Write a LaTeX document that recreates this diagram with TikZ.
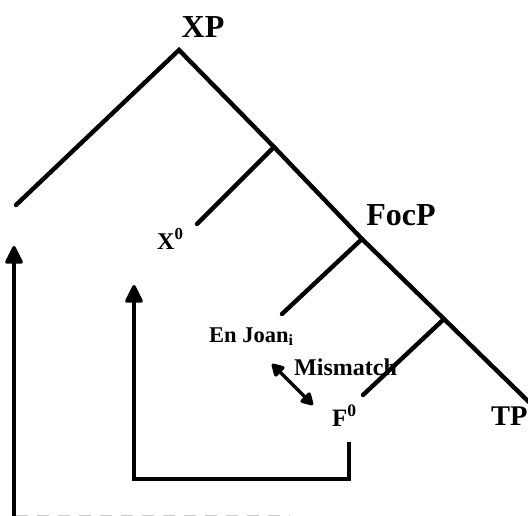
\documentclass[tikz,border=0pt]{standalone}
\usepackage{fontspec}
\setmainfont{Liberation Serif}
\usetikzlibrary{arrows.meta}
\begin{document}
\begin{tikzpicture}[x=1pt,y=-1pt,
  branch/.style={line width=4.4pt,line cap=round},
  conn/.style={line width=3.4pt},
  bigtip/.style={-{Triangle[width=19pt,length=20pt,round]}},
  twotip/.style={{Triangle[width=15pt,length=14pt,round]}-{Triangle[width=15pt,length=14pt,round]}},
  biglab/.style={inner sep=0pt,font=\bfseries\fontsize{32}{32}\selectfont},
  smalllab/.style={inner sep=0pt,font=\bfseries\fontsize{24}{24}\selectfont}]
\useasboundingbox (0,0) rectangle (528,516);
% coordinates of the tree
\coordinate (apex) at (179,50);
\coordinate (lend) at (16,205);
\coordinate (j1) at (274,147);
\coordinate (x0end) at (197,224);
\coordinate (j2) at (362,239);
\coordinate (foend) at (282,314);
\coordinate (j3) at (444,319);
\coordinate (fend) at (363,395);
\coordinate (tpend) at (532,405);
% labels
\node[biglab] (xp) at (203,27) {XP};
\node[biglab] (focp) at (401,215) {FocP};
\node[biglab,font=\bfseries\fontsize{28.5}{28.5}\selectfont,anchor=base west] (tp) at (491,425) {TP};
\node[smalllab,anchor=base west] (x0) at (157,249) {X\textsuperscript{0}};
\node[smalllab,font=\bfseries\fontsize{22.5}{22.5}\selectfont,anchor=base west] (enjoan) at (209,342) {En Joan\textsubscript{i}};
\node[smalllab,anchor=base west] (mism) at (294,375) {Mismatch};
\node[smalllab,font=\bfseries\fontsize{25}{25}\selectfont,anchor=base west] (f0) at (332,426) {F\textsuperscript{0}};
% tree
\draw[branch] (lend) -- (apex) -- (j1) -- (j2) -- (j3) -- (tpend);
\draw[branch] (j1) -- (x0end);
\draw[branch] (j2) -- (foend);
\draw[branch] (j3) -- (fend);
% mismatch arrow
\coordinate (m1) at (272,364);
\coordinate (m2) at (313,405);
\draw[conn,twotip] (m1) -- (m2);
% movement of F0
\coordinate (fb) at (349,442);
\coordinate (fc) at (349,479);
\coordinate (fd) at (134,479);
\coordinate (fe) at (134,285);
\draw[conn,bigtip] (fb) -- (fc) -- (fd) -- (fe);
% long movement
\coordinate (la) at (14,520);
\coordinate (lb) at (14,246);
\draw[conn,bigtip] (la) -- (lb);
\coordinate (da) at (16,516);
\coordinate (db) at (290,516);
\draw[gray!40,line width=2.5pt,dash pattern=on 12pt off 9pt] (da) -- (db);
\end{tikzpicture}
\end{document}
